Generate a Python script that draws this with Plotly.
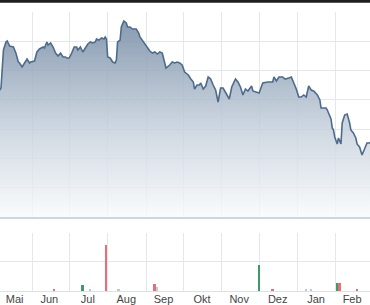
import plotly.graph_objects as go

dates = [
    "2018-05-03", "2018-05-06", "2018-05-07", "2018-05-09", "2018-05-11", "2018-05-12", "2018-05-14",
    "2018-05-17", "2018-05-19", "2018-05-21", "2018-05-22", "2018-05-24", "2018-05-26", "2018-05-28",
    "2018-05-30", "2018-05-31", "2018-06-03", "2018-06-05", "2018-06-07", "2018-06-10", "2018-06-11",
    "2018-06-13", "2018-06-14", "2018-06-16", "2018-06-18", "2018-06-20", "2018-06-22", "2018-06-24",
    "2018-06-26", "2018-06-28", "2018-06-29", "2018-07-01", "2018-07-03", "2018-07-05", "2018-07-07",
    "2018-07-08", "2018-07-10", "2018-07-11", "2018-07-12", "2018-07-14", "2018-07-16", "2018-07-18",
    "2018-07-20", "2018-07-22", "2018-07-23", "2018-07-25", "2018-07-27", "2018-07-29", "2018-07-30",
    "2018-07-31", "2018-08-01", "2018-08-03", "2018-08-05", "2018-08-07", "2018-08-08", "2018-08-09",
    "2018-08-11", "2018-08-12", "2018-08-14", "2018-08-16", "2018-08-17", "2018-08-19", "2018-08-21",
    "2018-08-24", "2018-08-26", "2018-08-27", "2018-08-30", "2018-09-02", "2018-09-04", "2018-09-06",
    "2018-09-08", "2018-09-10", "2018-09-12", "2018-09-14", "2018-09-16", "2018-09-17", "2018-09-20",
    "2018-09-22", "2018-09-24", "2018-09-26", "2018-09-28", "2018-09-30", "2018-10-02", "2018-10-05",
    "2018-10-07", "2018-10-09", "2018-10-10", "2018-10-12", "2018-10-14", "2018-10-15", "2018-10-17",
    "2018-10-19", "2018-10-21", "2018-10-23", "2018-10-25", "2018-10-27", "2018-10-29", "2018-10-31",
    "2018-11-02", "2018-11-04", "2018-11-06", "2018-11-07", "2018-11-09", "2018-11-12", "2018-11-14",
    "2018-11-16", "2018-11-18", "2018-11-20", "2018-11-22", "2018-11-25", "2018-11-26", "2018-11-29",
    "2018-12-01", "2018-12-04", "2018-12-08", "2018-12-12", "2018-12-13", "2018-12-15", "2018-12-17",
    "2018-12-20", "2018-12-22", "2018-12-25", "2018-12-27", "2018-12-29", "2018-12-31", "2019-01-02",
    "2019-01-04", "2019-01-06", "2019-01-08", "2019-01-10", "2019-01-12", "2019-01-14", "2019-01-17",
    "2019-01-19", "2019-01-20", "2019-01-24", "2019-01-25", "2019-01-28", "2019-01-29", "2019-01-30",
    "2019-01-31", "2019-02-02", "2019-02-03", "2019-02-05", "2019-02-06", "2019-02-08", "2019-02-10",
    "2019-02-12", "2019-02-13", "2019-02-15", "2019-02-17", "2019-02-18", "2019-02-20", "2019-02-22",
    "2019-02-24", "2019-02-26", "2019-02-28", "2019-03-01",
]
prices = [
    21.5, 21.5, 21.7, 25.5, 26.3, 26.4, 25.9,
    25.8, 25.2, 24.3, 24.2, 23.8, 24.2, 24.6,
    24.2, 24.3, 24.4, 25.3, 25.6, 25.8, 25.7,
    26.3, 26.0, 26.2, 25.8, 25.2, 24.9, 25.2,
    24.8, 24.8, 24.7, 24.7, 25.2, 25.8, 25.8,
    25.5, 25.8, 25.5, 25.3, 25.7, 26.1, 26.3,
    26.2, 26.3, 26.6, 26.5, 26.7, 26.6, 26.8,
    26.6, 24.8, 24.7, 24.3, 24.2, 24.5, 26.3,
    26.5, 27.8, 28.4, 28.2, 27.8, 27.8, 27.6,
    27.6, 27.2, 26.8, 26.3, 25.7, 25.4, 25.2,
    25.3, 25.1, 25.3, 25.2, 24.3, 23.7, 24.0,
    24.3, 24.2, 24.3, 24.2, 24.0, 23.3, 23.0,
    22.6, 22.3, 21.6, 22.0, 22.0, 22.2, 21.6,
    21.9, 22.8, 22.6, 22.0, 21.5, 20.3, 21.7,
    21.7, 21.2, 20.8, 20.6, 21.8, 22.6, 22.3,
    21.8, 21.0, 21.6, 21.4, 21.9, 21.4, 21.3,
    21.2, 22.2, 22.3, 22.3, 22.8, 22.4, 22.8,
    22.8, 22.6, 22.7, 22.8, 22.2, 21.6, 20.8,
    20.8, 21.0, 20.8, 21.9, 21.5, 21.4, 21.0,
    20.5, 19.7, 19.7, 19.5, 18.6, 17.7, 17.5,
    16.8, 16.1, 16.7, 16.1, 18.2, 19.0, 19.1,
    18.2, 17.5, 17.2, 16.7, 16.1, 15.8, 15.0,
    15.7, 16.2, 16.2, 16.3,
]

vol_dates = ["2018-06-19", "2018-07-12", "2018-07-18", "2018-07-31", "2018-08-10", "2018-09-08",
             "2018-09-10", "2018-12-01", "2018-12-12", "2019-01-08", "2019-01-12", "2019-02-02",
             "2019-02-04", "2019-02-18"]
volumes = [0.07, 0.21, 0.07, 1.59, 0.07, 0.24, 0.14, 0.90, 0.05, 0.05, 0.05, 0.28, 0.28, 0.05]
vol_dir = ["down", "up", "flat", "down", "flat", "down", "flat", "up", "down", "flat", "flat",
           "up", "down", "down"]

month_labels = ["Mai", "Jun", "Jul", "Aug", "Sep", "Okt", "Nov", "Dez", "Jan", "Feb"]
label_dates = ["2018-05-18", "2018-06-15", "2018-07-16", "2018-08-16", "2018-09-15", "2018-10-16",
               "2018-11-15", "2018-12-16", "2019-01-16", "2019-02-14"]
month_starts = ["2018-06-01", "2018-07-01", "2018-08-01", "2018-09-01", "2018-10-01",
                "2018-11-01", "2018-12-01", "2019-01-01", "2019-02-01"]

dir_colors = {"up": "#3d9a6a", "down": "#ee6b74", "flat": "#b9cadb"}
x_range = ["2018-05-06 05:00", "2019-02-28 10:00"]
y_lo, y_hi = 8.8, 29.3

fig = go.Figure()
fig.add_trace(go.Scatter(
    x=dates, y=prices, mode="lines",
    line=dict(color="#4c6b8d", width=1.6),
    fill="tozeroy",
    fillgradient=dict(
        type="vertical", start=y_lo, stop=y_hi,
        colorscale=[[0, "rgba(248,250,252,0.8)"], [0.43, "rgba(196,207,219,0.82)"],
                    [0.86, "rgba(130,150,173,0.85)"], [1, "rgba(115,137,163,0.88)"]],
    ),
    xaxis="x", yaxis="y", hoverinfo="skip", showlegend=False,
))
fig.add_trace(go.Bar(
    x=vol_dates, y=volumes, width=1.5 * 86400000,
    marker=dict(color=[dir_colors[d] for d in vol_dir], line=dict(width=0)),
    xaxis="x2", yaxis="y2", hoverinfo="skip", showlegend=False,
))

grid = "#e4e7eb"
fig.update_layout(
    width=370, height=305,
    margin=dict(l=0, r=0, t=12, b=14),
    paper_bgcolor="white", plot_bgcolor="white",
    xaxis=dict(domain=[0, 1], anchor="y", type="date", range=x_range,
               tickvals=month_starts, showticklabels=False, ticks="",
               showgrid=True, gridcolor=grid, gridwidth=1,
               showline=True, linecolor="#cdd6e0", linewidth=2, zeroline=False),
    yaxis=dict(domain=[0.2652, 1], range=[y_lo, y_hi], tick0=y_lo, dtick=2.93,
               showticklabels=False, ticks="", showgrid=True, gridcolor=grid, gridwidth=1,
               zeroline=False, showline=False),
    xaxis2=dict(domain=[0, 1], anchor="y2", type="date", range=x_range, matches="x",
                tickvals=label_dates, ticktext=month_labels, ticklabelstandoff=-2,
                ticks="", showgrid=False,
                minor=dict(tickvals=month_starts, showgrid=True, gridcolor=grid, gridwidth=1, ticks=""),
                showline=True, linecolor="#dde1e6", linewidth=1, zeroline=False,
                tickfont=dict(family="Liberation Sans, Arial, sans-serif", size=11, color="#444"),
                automargin=False),
    yaxis2=dict(domain=[0, 0.2079], range=[0, 2], dtick=1, showticklabels=False, ticks="",
                showgrid=True, gridcolor=grid, gridwidth=1, zeroline=False, showline=False),
    bargap=0,
    shapes=[dict(type="rect", xref="paper", yref="paper", x0=0, x1=1, y0=1.0333, y1=1.06,
                 fillcolor="#1f1f1f", line=dict(width=0), layer="above")],
)

fig.write_html("out.html")
